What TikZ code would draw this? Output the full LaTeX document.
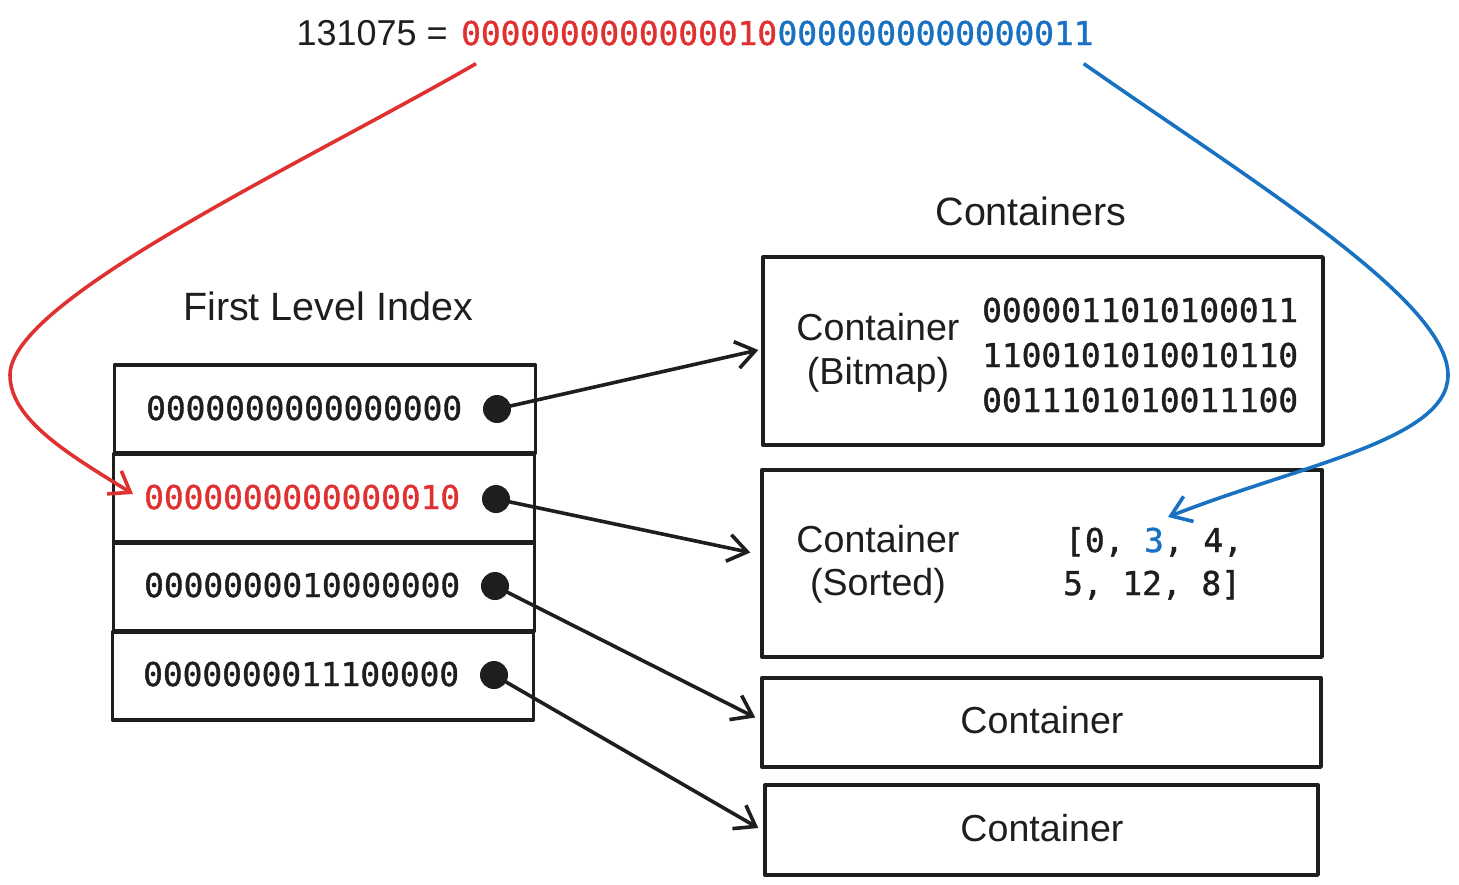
\documentclass[tikz,border=0pt]{standalone}
\usepackage{fontspec}
\setmainfont{Liberation Sans}
\newfontfamily\monof[FakeBold=1.2]{DejaVu Sans Mono}
\usetikzlibrary{arrows.meta,calc}
\definecolor{ink}{HTML}{1E1E1E}
\definecolor{xred}{HTML}{E03131}
\definecolor{xblue}{HTML}{1971C2}
\begin{document}
\begin{tikzpicture}[x=1pt,y=-1pt,
  box/.style={draw=ink, line width=3.4pt, inner sep=0pt, line join=round},
  mono/.style={font=\monof\fontsize{32.8}{40}\selectfont, text=ink, inner sep=0pt, anchor=base west},
  hand/.style={font=\fontsize{39.5}{46}\selectfont, text=ink, inner sep=0pt, anchor=base},
  lab/.style={font=\fontsize{37.6}{44}\selectfont, text=ink, inner sep=0pt, anchor=base},
  dot/.style={circle, fill=ink, minimum size=28pt, inner sep=0pt},
  tip/.style={-{Straight Barb[length=19pt,width=27pt]}},
  arr/.style={draw=ink, line width=3.6pt, tip},
  curve/.style={line width=3.6pt, tip},
]
\useasboundingbox (0,0) rectangle (1459,884);

% top number
\node[hand, anchor=base east, font=\fontsize{36}{43}\selectfont] (num) at (448,45) {131075 =};
\node[mono, text=xred] (hi) at (461,45) {0000000000000010};
\node[mono, text=xblue] (lo) at (hi.base east) {0000000000000011};
\coordinate (rs) at ($(hi.south west)+(15,18)$);
\coordinate (bs) at ($(lo.south east)+(-10,18)$);

% headings
\node[hand] (cont) at (1031,225) {Containers};
\node[hand] (fli) at (328,320) {First Level Index};

% first level index rows
\node[box, minimum width=421pt, minimum height=88pt] (r1) at (325,409) {};
\node[box, minimum width=421pt, minimum height=88pt] (r2) at (324,498) {};
\node[box, minimum width=421pt, minimum height=88pt] (r3) at (324,587) {};
\node[box, minimum width=421pt, minimum height=88pt] (r4) at (323,676) {};
\node[mono] (t1) at (146,420) {0000000000000000};
\node[mono, text=xred] (t2) at (144,509) {0000000000000010};
\node[mono] (t3) at (144,597) {0000000010000000};
\node[mono] (t4) at (143,686) {0000000011100000};
\node[dot] (d1) at (497,409) {};
\node[dot] (d2) at (496,499) {};
\node[dot] (d3) at (495,586) {};
\node[dot] (d4) at (494,675) {};

% containers
\node[box, minimum width=560pt, minimum height=188pt] (bm) at (1043,351) {};
\node[box, minimum width=560pt, minimum height=187pt] (so) at (1042,563.5) {};
\node[box, minimum width=559pt, minimum height=89pt] (c3) at (1041.5,722.5) {};
\node[box, minimum width=553pt, minimum height=90pt] (c4) at (1041.5,830) {};

\node[lab] (bml1) at (878,340) {Container};
\node[lab] (bml2) at (878,384) {(Bitmap)};
\node[mono] (b1) at (982,322) {0000011010100011};
\node[mono] (b2) at (982,367) {1100101010010110};
\node[mono] (b3) at (982,412) {0011101010011100};

\node[lab] (sol1) at (878,552) {Container};
\node[lab] (sol2) at (878,595) {(Sorted)};
\node[mono] (l1) at (1065,552) {[0, \textcolor{xblue}{3}, 4,};
\node[mono] (l2) at (1063,595) {5, 12, 8]};

\node[lab] (c3l) at (1042,733) {Container};
\node[lab] (c4l) at (1042,841) {Container};

% pointer arrows
\draw[arr] (d1.center) -- ($(bm.west)+(-3,-1)$);
\draw[arr] (d2.center) -- ($(so.west)+(-10,-11)$);
\draw[arr] (d3.center) -- ($(c3.west)+(-5,-5)$);
\draw[arr] (d4.center) -- ($(c4.west)+(-5,-2)$);

% red and blue curves
\coordinate (re) at ($(t2.base west)+(-11,-15)$);
\coordinate (be) at ($(l1.base west)+(103,-35)$);
\draw[curve, xred] (rs) .. controls (300,165) and (10,300) .. (10,375)
  .. controls (10,420) and (70,455) .. (re);
\draw[curve, xblue] (bs) .. controls (1250,180) and (1448,300) .. (1448,375)
  .. controls (1448,440) and (1300,465) .. (be);
\end{tikzpicture}
\end{document}
